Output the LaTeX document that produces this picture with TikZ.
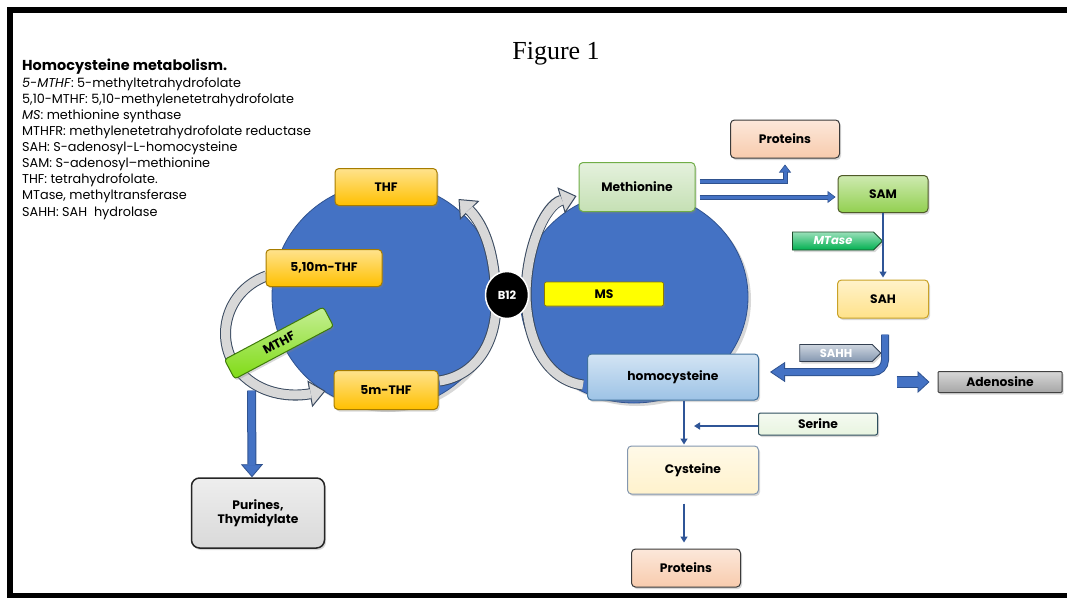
\documentclass[tikz,border=0pt]{standalone}
\usepackage{fontspec}
\setmainfont{Poppins}
\newfontfamily\seriffont{Liberation Serif}
\usetikzlibrary{arrows.meta,shapes.geometric,shapes.symbols,calc,shadows}
\definecolor{cblue}{HTML}{4472C4}
\definecolor{cblueD}{HTML}{2F528F}
\definecolor{thinB}{HTML}{2F5597}
\definecolor{gold}{HTML}{FFC000}
\definecolor{goldD}{HTML}{A67C00}
\definecolor{mthfF}{HTML}{7FDB14}
\definecolor{mthfD}{HTML}{3F7A0A}
\definecolor{methF}{HTML}{C5E0B4}
\definecolor{methD}{HTML}{70AD47}
\definecolor{msF}{HTML}{FFFF00}
\definecolor{msD}{HTML}{8C7A00}
\definecolor{hcyF}{HTML}{9DC3E6}
\definecolor{hcyD}{HTML}{41719C}
\definecolor{protF}{HTML}{F8CBAD}
\definecolor{protD}{HTML}{3A3A3A}
\definecolor{samF}{HTML}{92D050}
\definecolor{samD}{HTML}{4F5A28}
\definecolor{mtaseF}{HTML}{00B050}
\definecolor{mtaseD}{HTML}{1E4D2B}
\definecolor{sahF}{HTML}{FFE28A}
\definecolor{sahD}{HTML}{C9A227}
\definecolor{sahhF}{HTML}{8497B0}
\definecolor{sahhD}{HTML}{333F50}
\definecolor{adenF}{HTML}{A6A6A6}
\definecolor{adenD}{HTML}{404040}
\definecolor{serF}{HTML}{E8F4E0}
\definecolor{serD}{HTML}{2E4F5E}
\definecolor{cysF}{HTML}{FFF2CC}
\definecolor{cysD}{HTML}{8497B0}
\definecolor{purF}{HTML}{D9D9D9}
\definecolor{purD}{HTML}{262626}
\definecolor{arrF}{HTML}{D8D8D8}
\definecolor{arrD}{HTML}{3A4A60}
\newcommand\twostroke[3]{\draw[#1] #3; \draw[#2] #3;}
\pgfdeclarelayer{bg}
\pgfdeclarelayer{mid}
\pgfsetlayers{bg,mid,main}
\begin{document}
\begin{tikzpicture}[x=1pt,y=-1pt,
  shad/.style={drop shadow={opacity=0.3, shadow xshift=1.5pt, shadow yshift=-2pt}},
  box/.style={draw, rounded corners=4pt, line width=1pt, inner sep=0pt, align=center, shad,
    font=\bfseries\fontsize{12.3}{14.5}\selectfont},
  colbox/.style 2 args={top color=#1!45!white, bottom color=#1, draw=#2},
  sig/.style={signal, signal to=east, draw, line width=0.8pt, inner sep=0pt, text=white, shad,
    font=\bfseries\fontsize{11.5}{12}\selectfont},
  legend/.style={anchor=base west, inner sep=0pt, font=\fontsize{12.8}{14}\selectfont},
  circ/.style={ellipse, fill=cblue, draw=cblueD, line width=0.8pt,
    drop shadow={opacity=0.3, shadow xshift=3pt, shadow yshift=-3pt}},
  blkout/.style={line width=9pt, draw=cblueD, -{Triangle[length=13pt,width=22pt,fill=cblue,line width=0.8pt]}},
  blkin/.style={line width=7pt, draw=cblue, shorten >=12pt},
  medout/.style={line width=5pt, draw=cblueD, shorten >=6pt, -{Triangle[length=8pt,width=12pt,fill=cblue,line width=0.6pt]}},
  medin/.style={line width=3pt, draw=cblue, shorten >=13pt},
  sahout/.style={line width=8pt, draw=cblueD, rounded corners=12pt, -{Triangle[length=15pt,width=20pt,fill=cblue,line width=0.8pt]}},
  sahin/.style={line width=6pt, draw=cblue, rounded corners=12pt, shorten >=14pt},
  adout/.style={line width=12pt, draw=cblueD, -{Triangle[length=12pt,width=22pt,fill=cblue,line width=0.8pt]}},
  adin/.style={line width=10pt, draw=cblue, shorten >=11pt},
  thinarr/.style={line width=2pt, draw=thinB, -{Triangle[length=6pt,width=7pt]}},
  gout/.style={line width=11pt, draw=arrD, -{Triangle[length=16pt,width=27pt,fill=arrF,line width=1pt]}},
  gin/.style={line width=9pt, draw=arrF, shorten >=15pt}
]
\useasboundingbox (0,0) rectangle (1067,597);
\begin{pgfonlayer}{bg}
\fill[white] (0,0) rectangle (1067,597);
\end{pgfonlayer}

% legend
\node[legend, font=\bfseries\fontsize{14.4}{16}\selectfont] (lg0) at (22,70) {Homocysteine metabolism.};
\node[legend] (lg1) at (22,87) {\textit{5-MTHF}: 5-methyltetrahydrofolate};
\node[legend] (lg2) at (22,103) {5,10-MTHF: 5,10-methylenetetrahydrofolate};
\node[legend] (lg3) at (22,119) {\textit{MS}: methionine synthase};
\node[legend] (lg4) at (22,135) {MTHFR: methylenetetrahydrofolate reductase};
\node[legend] (lg5) at (22,151) {SAH: S-adenosyl-L-homocysteine};
\node[legend] (lg6) at (22,167.5) {SAM: S-adenosyl--methionine};
\node[legend] (lg7) at (22,183.5) {THF: tetrahydrofolate.};
\node[legend] (lg8) at (22,199.5) {MTase, methyltransferase};
\node[legend] (lg9) at (22,216) {SAHH: SAH\ \ hydrolase};

\node[font=\seriffont\fontsize{26}{28}\selectfont, inner sep=0pt] (fig) at (556,54) {Figure 1};

% circles
\begin{pgfonlayer}{bg}
\node[circ, minimum width=226, minimum height=226] (lc) at (385,296) {};
\node[circ, minimum width=228, minimum height=212] (rc) at (634,297) {};
\end{pgfonlayer}

% boxes
\node[box, colbox={gold}{goldD}, minimum width=102, minimum height=37] (thf) at (386,187) {THF};
\node[box, colbox={gold}{goldD}, minimum width=116, minimum height=37] (m510) at (324,268) {5,10m-THF};
\node[box, colbox={gold}{goldD}, minimum width=104, minimum height=39] (m5) at (386,390) {5m-THF};
\node[box, colbox={methF}{methD}, minimum width=116, minimum height=49] (meth) at (637,187) {Methionine};
\node[box, fill=msF, draw=msD, rounded corners=2pt, line width=0.7pt, minimum width=119, minimum height=24] (ms) at (604,294) {MS};
\node[box, colbox={hcyF}{hcyD}, minimum width=171, minimum height=46] (hcy) at (673,377) {homocysteine};
\node[box, colbox={protF}{protD}, minimum width=109, minimum height=38] (prot1) at (785,139) {Proteins};
\node[box, colbox={samF}{samD}, minimum width=90, minimum height=37] (sam) at (883,194) {SAM};
\node[sig, top color=mtaseF!40!white, bottom color=mtaseF, draw=mtaseD, minimum width=90, minimum height=18, font=\bfseries\itshape\fontsize{11.5}{12}\selectfont] (mtase) at (833,241) {MTase};
\node[box, colbox={sahF}{sahD}, minimum width=91, minimum height=38] (sah) at (883,299) {SAH};
\node[sig, top color=sahhF!40!white, bottom color=sahhF, draw=sahhD, minimum width=81, minimum height=17] (sahh) at (836,353) {SAHH};
\node[box, rounded corners=1pt, colbox={adenF}{adenD}, minimum width=124, minimum height=21] (aden) at (1000,382) {Adenosine};
\node[box, rounded corners=2pt, colbox={serF}{serD}, minimum width=119, minimum height=22] (ser) at (818,424) {Serine};
\node[box, colbox={cysF}{cysD}, minimum width=131, minimum height=48] (cys) at (693,470) {Cysteine};
\node[box, colbox={protF}{protD}, minimum width=109, minimum height=38] (prot2) at (686,568) {Proteins};
\node[box, rounded corners=8pt, colbox={purF}{purD}, line width=1.5pt, minimum width=133, minimum height=70] (pur) at (258,513) {Purines,\\Thymidylate};
\node[box, rounded corners=3pt, colbox={mthfF}{mthfD}, minimum width=112, minimum height=22, rotate=28] (mthf) at (279,343) {MTHF};

% grey cycle arrows
\begin{pgfonlayer}{mid}
\twostroke{gout}{gin}{($(m5.east)+(1,-9)$) .. controls (478,375) and (497,340) .. (496,300) .. controls (495,255) and (485,226) .. ($(thf.east)+(21,12)$)}
\twostroke{gout}{gin}{($(hcy.west)+(-4,8)$) .. controls (546,380) and (527,340) .. (526,296) .. controls (526,248) and (545,205) .. ($(meth.west)+(-2,9)$)}
\twostroke{gout}{gin}{($(m510.west)+(1,8)$) .. controls (222,292) and (212,348) .. (245,377) .. controls (265,395) and (292,397) .. ($(m5.west)+(-8,1)$)}
\end{pgfonlayer}

\node[ellipse, fill=black, draw=white, line width=1.5pt, minimum width=43, minimum height=47, inner sep=0pt, text=white, font=\bfseries\fontsize{11.5}{13}\selectfont] (b12) at (507,295) {B12};

% blue arrows
\twostroke{blkout}{blkin}{($(mthf.south west)+(17,11)$) -- ($(pur.north)+(-6,0)$)}
\twostroke{medout}{medin}{($(meth.east)+(4,-6)$) -| (prot1.south)}
\twostroke{medout}{medin}{($(meth.east)+(4,10)$) -- ($(sam.west)+(4,3)$)}
\draw[thinarr] (sam.south) -- ($(sah.north)+(0,-2)$);
\twostroke{sahout}{sahin}{($(sah.south)+(2,16)$) |- ($(hcy.east)+(11,-5)$)}
\twostroke{adout}{adin}{($(aden.west)+(-41,0)$) -- ($(aden.west)+(-8,0)$)}
\draw[thinarr] ($(hcy.south)+(11,0)$) -- ($(cys.north)+(-9,-1)$);
\draw[thinarr] ($(ser.west)+(0,2)$) -- ($(ser.west)+(-64,2)$);
\draw[thinarr] ($(cys.south)+(-9,9)$) -- ($(prot2.north)+(-2,-6)$);

% frame (open on the right, as in the reference)
\draw[line width=6pt] (1080,10) -- (10,10) -- (10,596) -- (1080,596);
\end{tikzpicture}
\end{document}
